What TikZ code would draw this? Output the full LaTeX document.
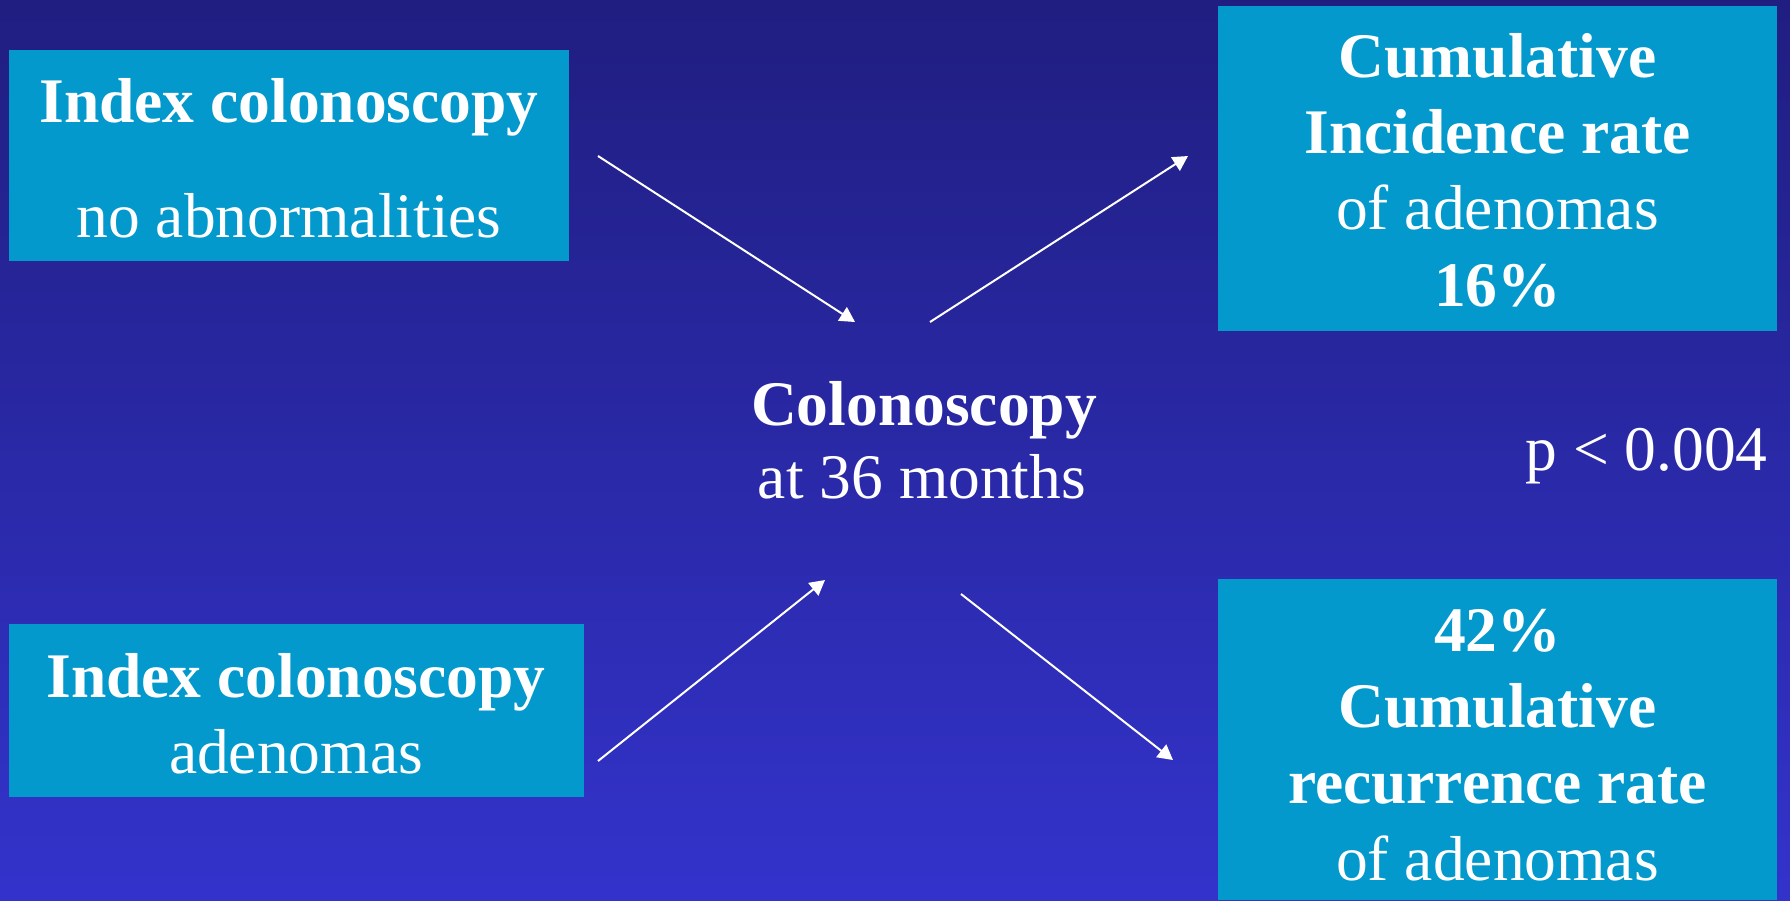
\documentclass[tikz,border=0pt]{standalone}
\usepackage{fontspec}
\setmainfont{Liberation Serif}
\usetikzlibrary{arrows.meta}
\definecolor{bgtop}{RGB}{32,30,128}
\definecolor{bgbot}{RGB}{51,51,204}
\definecolor{boxfill}{RGB}{3,153,204}
\tikzset{
  panel/.style={rectangle, fill=boxfill, draw=none, inner sep=0pt, outer sep=0pt},
  txtb/.style={anchor=base, inner sep=0pt, text=white, font=\fontsize{63.5}{76}\selectfont\bfseries},
  txtr/.style={anchor=base, inner sep=0pt, text=white, font=\fontsize{63.5}{76}\selectfont},
  flow/.style={draw=white, line width=2pt, -{Triangle[length=15pt,width=16pt]}}
}
\begin{document}
\begin{tikzpicture}[x=1pt,y=-1pt]
\useasboundingbox (0,0) rectangle (1790,900);
\shade[top color=bgtop, bottom color=bgbot] (0,0) rectangle (1790,900);

% boxes
\node[panel, minimum width=560pt, minimum height=211pt] (tl) at (289,155.5) {};
\node[panel, minimum width=575pt, minimum height=173pt] (bl) at (296.5,710.5) {};
\node[panel, minimum width=559pt, minimum height=325pt] (tr) at (1497.5,168.5) {};
\node[panel, minimum width=559pt, minimum height=321pt] (br) at (1497.5,739.5) {};

% texts
\node[txtb] (tl1) at (289,122) {Index colonoscopy};
\node[txtr] (tl2) at (289,237) {no abnormalities};
\node[txtb] (bl1) at (296,697) {Index colonoscopy};
\node[txtr] (bl2) at (296,773) {adenomas};
\node[txtb] (tr1) at (1497.5,77) {Cumulative};
\node[txtb] (tr2) at (1497.5,153) {Incidence rate};
\node[txtr] (tr3) at (1497.5,229) {of adenomas};
\node[txtb] (tr4) at (1497.5,306) {16\%};
\node[txtb] (br1) at (1497.5,651) {42\%};
\node[txtb] (br2) at (1497.5,727) {Cumulative};
\node[txtb] (br3) at (1497.5,803) {recurrence rate};
\node[txtr] (br4) at (1497.5,880) {of adenomas};
\node[txtb] (c1) at (924,425) {Colonoscopy};
\node[txtr] (c2) at (922,498) {at 36 months};
\node[txtr] (pv) at (1646.5,470) {p < 0.004};

% arrow end points
\coordinate (a1s) at (598,156);
\coordinate (a1e) at (855,322);
\coordinate (a2s) at (930,322);
\coordinate (a2e) at (1188,156);
\coordinate (a3s) at (598,761);
\coordinate (a3e) at (825,580);
\coordinate (a4s) at (961,594);
\coordinate (a4e) at (1173,760);

\draw[flow] (a1s) -- (a1e);
\draw[flow] (a2s) -- (a2e);
\draw[flow] (a3s) -- (a3e);
\draw[flow] (a4s) -- (a4e);
\end{tikzpicture}
\end{document}
